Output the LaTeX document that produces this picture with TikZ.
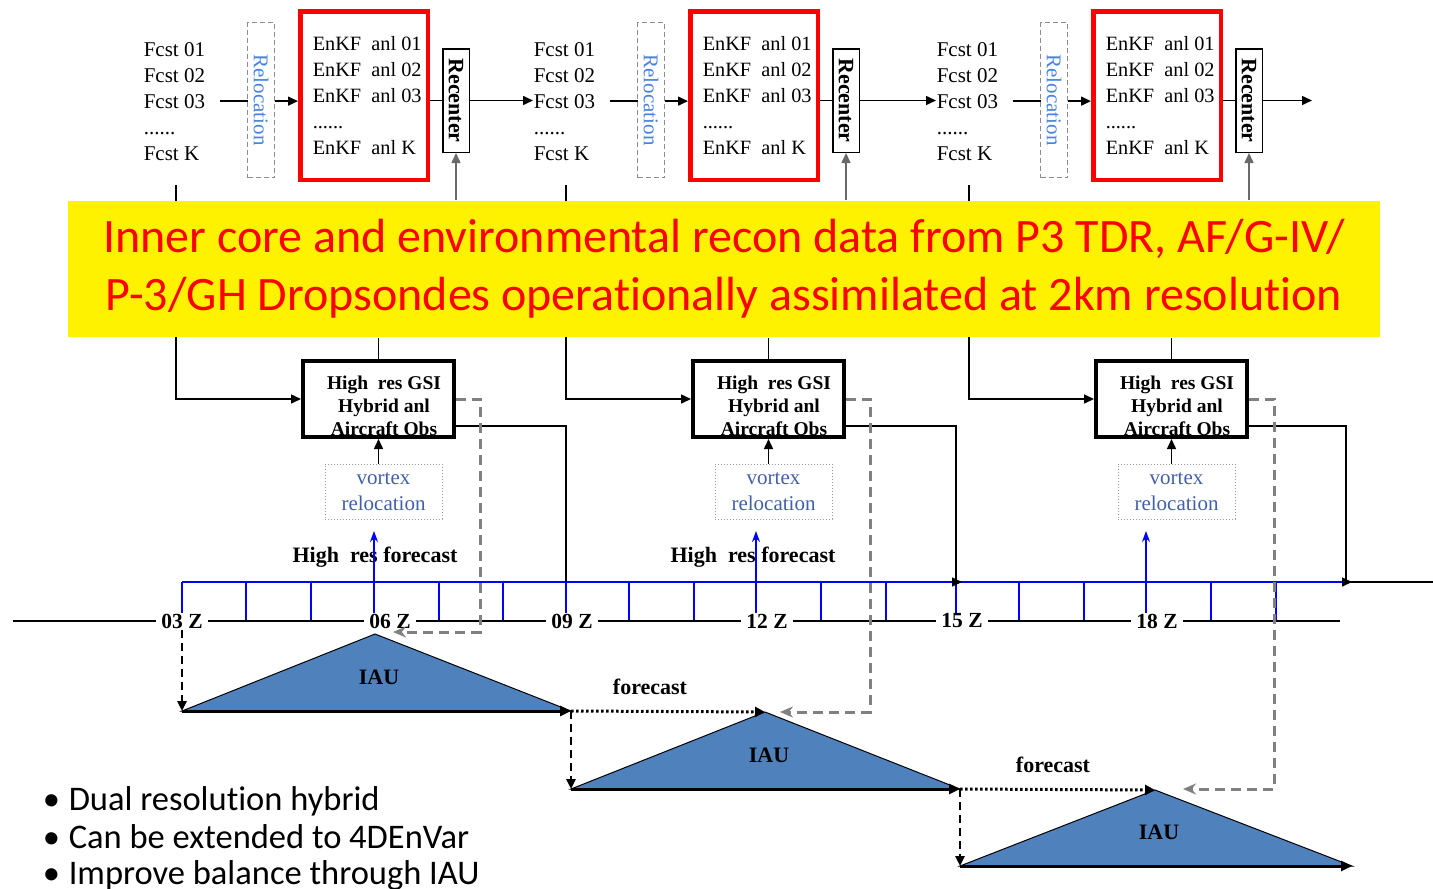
\documentclass[tikz,border=0pt]{standalone}
\usepackage{fontspec}
\setmainfont{Liberation Serif}
\newfontfamily\calibri[Ligatures=NoCommon]{Carlito}
\usetikzlibrary{arrows.meta,calc}
\newcommand\sixdots{......}
\definecolor{iaublue}{RGB}{79,129,189}
\definecolor{relblue}{RGB}{70,130,225}
\definecolor{vxblue}{RGB}{65,95,170}
\definecolor{dgray}{RGB}{128,128,128}
\definecolor{agray}{RGB}{105,105,105}
\tikzset{
  fc/.style={inner sep=0pt, anchor=base west, font=\fontsize{21}{24}\selectfont},
  en/.style={inner sep=0pt, anchor=base west, font=\fontsize{20.3}{24}\selectfont},
  redbox/.style={draw=red, line width=4.5pt, minimum width=127.5pt, minimum height=168.5pt, inner sep=0pt},
  relbox/.style={draw=black!45, dash pattern=on 5pt off 3pt, line width=1.2pt, fill=white, minimum width=27pt, minimum height=155pt, inner sep=0pt, text=relblue, font=\fontsize{21}{24}\selectfont},
  recbox/.style={draw, line width=1.5pt, fill=white, minimum width=26.5pt, minimum height=103.5pt, inner sep=0pt, font=\bfseries\fontsize{22}{24}\selectfont},
  hrbox/.style={draw, line width=4pt, minimum width=151pt, minimum height=76pt, inner sep=0pt},
  hrtext/.style={align=center, inner sep=0pt, font=\bfseries\fontsize{19.5}{23}\selectfont},
  vxbox/.style={draw=black!40, dotted, line width=1pt, minimum width=117pt, minimum height=55pt, align=center, text=vxblue, font=\fontsize{21}{26}\selectfont, inner sep=0pt},
  tl/.style={fill=white, inner xsep=5pt, inner ysep=1pt, font=\bfseries\fontsize{21.5}{24}\selectfont},
  bl/.style={font=\bfseries\fontsize{22}{24}\selectfont, inner sep=0pt},
  tip/.style={-{Triangle[length=10pt,width=9pt]}},
  graydash/.style={draw=dgray, line width=3pt, dash pattern=on 10pt off 6pt, -{Stealth[length=13pt,width=11pt]}},
  blackdash/.style={line width=2.5pt, dash pattern=on 8pt off 5pt, -{Triangle[length=10pt,width=9pt]}},
  dotarrow/.style={line width=3pt, dash pattern=on 2.5pt off 2.5pt, -{Triangle[length=10pt,width=10pt]}},
  basearrow/.style={line width=3pt, -{Triangle[length=11pt,width=10pt]}},
  iau/.style={fill=iaublue, draw=black, line width=1pt},
  bluearrow/.style={draw=blue, line width=1.6pt, -{Stealth[length=11pt,width=8pt]}},
  bullet/.style={inner sep=0pt, anchor=base west, font=\calibri\fontsize{34.5}{38}\selectfont},
}
\begin{document}
\begin{tikzpicture}[x=1pt,y=-1pt,line width=1.5pt]
\useasboundingbox (0,0) rectangle (1433,889);

% ---------- three cycles ----------
\foreach \g/\dx in {A/0,B/390,C/793}{
\begin{scope}[xshift=\dx pt]
  \foreach \t/\y/\n in {Fcst 01/56/1,Fcst 02/82/2,Fcst 03/108/3,\sixdots/134/4,Fcst K/160/5}
    \node[fc] (\g f\n) at (143,\y) {\t};
  \node[redbox] (\g red) at (364,95.5) {};
  \foreach \t/\y/\n in {EnKF~~anl 01/50/1,EnKF~~anl 02/76/2,EnKF~~anl 03/102/3,\sixdots/128/4,EnKF~~anl K/154/5}
    \node[en] (\g e\n) at (312,\y) {\t};
  \draw[tip] ([xshift=14pt]\g f3.east) -- (\g f3.east -| \g red.west);
  \node[relbox] (\g rel) at (261,100) {\rotatebox{-90}{Relocation}};
  \node[recbox] (\g rec) at (456,100.5) {\rotatebox{-90}{Recenter}};
  \draw (\g rec.west -| \g red.east) -- (\g rec.west);
  \node[hrbox] (\g hr) at (378.5,399) {};
  \node[hrtext] (\g hrt) at (384,406) {High~~res GSI\\Hybrid anl\\Aircraft Obs};
  \node[vxbox] (\g vx) at (383.5,491.5) {vortex\\relocation};
  \draw[tip] (\g vx.north -| \g hr.south) -- (\g hr.south);
  \coordinate (\g top) at (176,185);
  \draw[tip] (\g top) |- (\g hr.west);
\end{scope}
}
\draw[tip] (Arec.east) -- (Arec.east -| Bf3.west);
\draw[tip] (Brec.east) -- (Brec.east -| Cf3.west);
\coordinate (endC) at (1312,100.5);
\draw[tip] (Crec.east) -- (endC);

% ---------- yellow banner ----------
\node[fill=yellow, minimum width=1312pt, minimum height=136pt, inner sep=0pt, align=center,
      text=red, font=\calibri\fontsize{48}{58}\selectfont] (ybox) at (724,269)
  {Inner core and environmental recon data from P3 TDR, AF/G-IV/\\P-3/GH Dropsondes operationally assimilated at 2km resolution};
\foreach \g in {A,B,C}{
  \draw (ybox.south -| \g hr.north) -- (\g hr.north);
  \draw[agray, tip] (ybox.north -| \g rec.south) -- (\g rec.south);
}

% ---------- time axis ----------
\foreach \x in {182,246,311,439,503,566,629,694,821,886,956,1019,1084,1211,1276}
  \draw[blue, line width=1.6pt] (\x,582) -- (\x,621);
\coordinate (bl0) at (182,582);
\coordinate (bl1) at (1346,582);
\draw[blue, line width=1.6pt] (bl0) -- (bl1);
\node[bl] (hf1) at (375,557) {High~~res forecast};
\node[bl] (hf2) at (753,557) {High~~res forecast};
\foreach \x/\n in {374/1,756/2,1146/3}{
  \coordinate (u\n) at (\x,621);
  \coordinate (v\n) at (\x,531);
  \draw[bluearrow] (u\n) -- (v\n);
}
\coordinate (tlL) at (13,621);
\coordinate (tlR) at (1340,621);
\draw (tlL) -- (tlR);
\node[tl] (t03) at (182,621) {03 Z};
\node[tl] (t06) at (390,621) {06 Z};
\node[tl] (t09) at (572,621) {09 Z};
\node[tl] (t12) at (767,621) {12 Z};
\node[tl] (t15) at (962,621) {15 Z};
\node[tl] (t18) at (1157,621) {18 Z};

% ---------- analysis outputs to time axis ----------
\coordinate (j1) at (566,582);
\coordinate (j2) at (956,582);
\coordinate (j3) at (1346,582);
\coordinate (rEnd) at (1433,582);
\draw ([yshift=-27pt]Ahr.east) -| (j1);
\draw[tip] ([yshift=-27pt]Bhr.east) -| (j2) -- ++(6,0);
\draw[tip] ([yshift=-27pt]Chr.east) -| (j3) -- ++(6,0);
\draw (j3) -- (rEnd);

% ---------- IAU triangles ----------
\coordinate (a1L) at (182,711); \coordinate (a1T) at (375,634); \coordinate (a1R) at (571,711);
\coordinate (a2L) at (571,789); \coordinate (a2T) at (765,712); \coordinate (a2R) at (960,789);
\coordinate (a3L) at (960,866); \coordinate (a3T) at (1155,790); \coordinate (a3R) at (1352,866);
\fill[iau] (a1L) -- (a1T) -- (a1R) -- cycle;
\fill[iau] (a2L) -- (a2T) -- (a2R) -- cycle;
\fill[iau] (a3L) -- (a3T) -- (a3R) -- cycle;
\draw[basearrow] (a1L) -- (a1R);
\draw[basearrow] (a2L) -- (a2R);
\draw[basearrow] (a3L) -- (a3R);
\node[bl] (iau1) at (379,677) {IAU};
\node[bl] (iau2) at (769,755) {IAU};
\node[bl] (iau3) at (1159,832) {IAU};
\draw[blackdash] (t03.south) -- (a1L);
\draw[blackdash] (a1R) -- (a2L);
\draw[blackdash] (a2R) -- (a3L);
\draw[dotarrow] (a1R) -- (a2T);
\draw[dotarrow] (a2R) -- (a3T);
\node[bl] (fc1) at (650,687) {forecast};
\node[bl] (fc2) at (1053,765) {forecast};

% ---------- gray dashed feedback ----------
\coordinate (g1) at (393,632);
\coordinate (g2) at (780,712);
\coordinate (g3) at (1183,789);
\draw[graydash] (Ahr.east) -- ++(24,0) |- (g1);
\draw[graydash] (Bhr.east) -- ++(24,0) |- (g2);
\draw[graydash] (Chr.east) -- ++(25,0) |- (g3);

% ---------- bullets ----------
\foreach \t/\y/\n in {Dual resolution hybrid/810/1,Can be extended to 4DEnVar/848/2,Improve balance through IAU/884/3}{
  \node[bullet] (bu\n) at (42,\y) {•};
  \node[bullet] (bt\n) at (68,\y) {\t};
}
\end{tikzpicture}
\end{document}
